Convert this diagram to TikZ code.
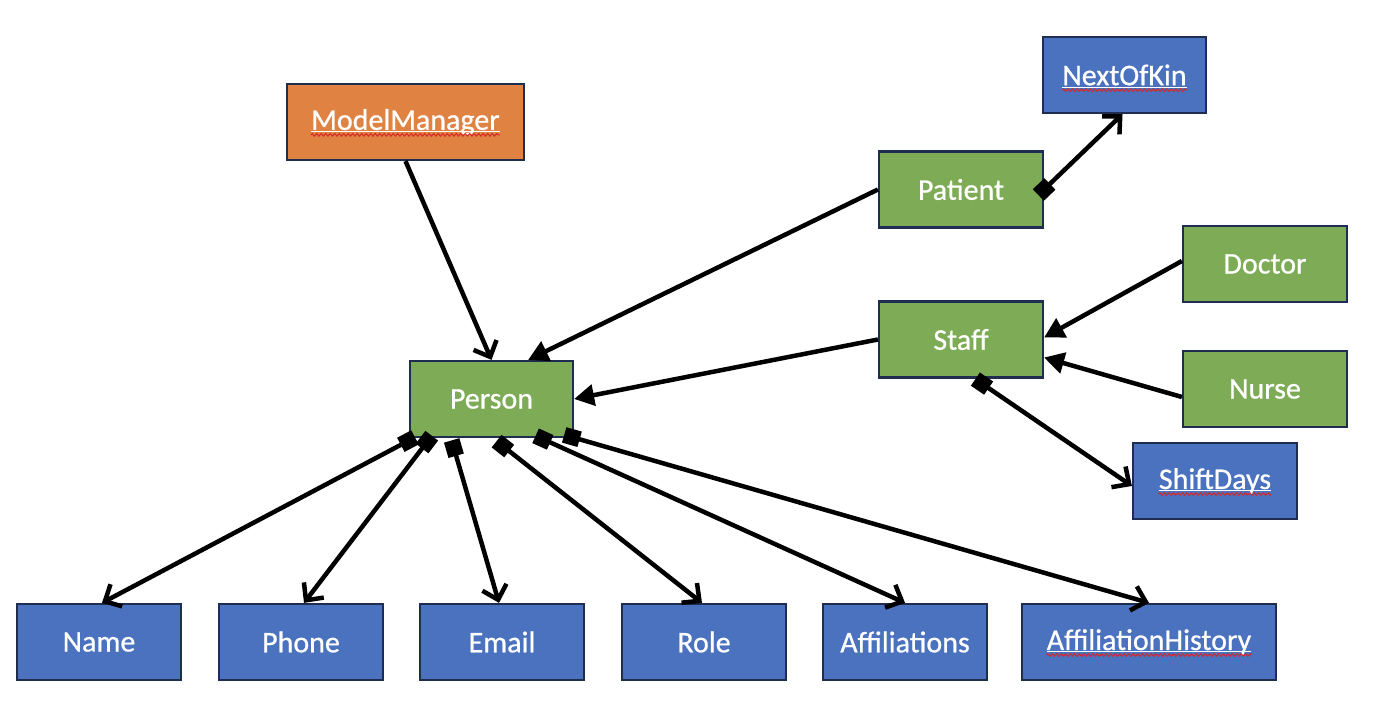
\documentclass[tikz,border=0pt]{standalone}
\usepackage{fontspec}
\setmainfont{Carlito}
\newfontfamily\boxfont{Carlito}[FakeBold=0.7]
\usetikzlibrary{arrows.meta,decorations.pathmorphing}
\definecolor{boxgreen}{RGB}{126,171,85}
\definecolor{boxblue}{RGB}{74,114,190}
\definecolor{boxorange}{RGB}{224,130,66}
\definecolor{boxedge}{RGB}{31,45,80}
\definecolor{squig}{RGB}{214,40,40}
\begin{document}
\begin{tikzpicture}[x=1pt,y=1pt,
  box/.style={draw=boxedge, line width=2.2pt, minimum width=164pt, minimum height=76pt,
    inner sep=0pt, text=white, font=\boxfont\fontsize{30}{35}\selectfont},
  gbox/.style={box, fill=boxgreen},
  bbox/.style={box, fill=boxblue},
  obox/.style={box, fill=boxorange},
  txt/.style={inner sep=0pt, text=white, font=\boxfont\fontsize{30}{35}\selectfont},
  inh/.style={line width=4.5pt, -{Triangle[length=20pt,width=21pt]}},
  assoc/.style={line width=4.5pt, -{Straight Barb[length=13pt,width=25pt]}},
  comp/.style={line width=4.5pt, {Square[length=16pt,width=16pt]}-{Straight Barb[length=13pt,width=25pt]}, shorten <=-8pt},
  wline/.style={white, line width=1pt},
  wavy/.style={squig, line width=1pt, decorate, decoration={zigzag, amplitude=1.3pt, segment length=4.5pt}}
]
\fill[white] (0,0) rectangle (1382,728);
\useasboundingbox (0,0) rectangle (1382,728);

% boxes
\node[obox, minimum width=237pt] (mm) at (405.5,606) {};
\node[txt] (mmt) at (mm) {ModelManager};
\node[bbox, minimum width=163pt] (nok) at (1124.5,653) {};
\node[txt] (nokt) at (nok) {NextOfKin};
\node[gbox] (patient) at (961,538.5) {Patient};
\node[gbox] (staff) at (961,388.5) {Staff};
\node[gbox] (doctor) at (1265,464) {Doctor};
\node[gbox] (nurse) at (1265,339) {Nurse};
\node[bbox] (shift) at (1215,247) {};
\node[txt] (shiftt) at (shift) {ShiftDays};
\node[gbox, minimum width=163pt] (person) at (491.5,329) {Person};

\node[bbox] (name) at (99,86) {Name};
\node[bbox] (phone) at (301,86) {Phone};
\node[bbox] (email) at (502,86) {Email};
\node[bbox] (role) at (704,86) {Role};
\node[bbox] (affil) at (905,86) {Affiliations};
\node[bbox, minimum width=254pt] (ahist) at (1149,86) {};
\node[txt] (ahistt) at (ahist) {AffiliationHistory};

% spell-check underlines
\foreach \t in {mmt,nokt,shiftt,ahistt}{
  \draw[wline] ([yshift=-2pt]\t.base west) -- ([yshift=-2pt]\t.base east);
  \draw[wavy] ([yshift=-5pt]\t.base west) -- ([yshift=-5pt]\t.base east);
}

% connectors
\draw[assoc] (mm.south) -- (person.north);
\draw[inh] (patient.west) -- ([xshift=-46pt]person.north east);
\draw[inh] (staff.west) -- (person.east);
\draw[comp] (patient.east) -- ([xshift=-2pt]nok.south);
\draw[inh] ([yshift=3pt]doctor.west) -- ([yshift=2pt]staff.east);
\draw[inh] ([yshift=-8pt]nurse.west) -- ([yshift=-18pt]staff.east);
\draw[comp] ([xshift=21pt,yshift=-5pt]staff.south) -- ([yshift=-5pt]shift.west);

\draw[comp] ([xshift=-1pt,yshift=-3pt]person.south west) -- ([xshift=3pt]name.north);
\draw[comp] ([xshift=18pt,yshift=-4pt]person.south west) -- ([xshift=3pt]phone.north);
\draw[comp] ([xshift=45pt,yshift=-10pt]person.south west) -- ([xshift=-3pt]email.north);
\draw[comp] ([xshift=94pt,yshift=-8pt]person.south west) -- ([xshift=-2pt]role.north);
\draw[comp] ([xshift=134pt,yshift=-1pt]person.south west) -- (affil.north);
\draw[comp] ([xshift=163pt,yshift=1pt]person.south west) -- (ahist.north);
\end{tikzpicture}
\end{document}
